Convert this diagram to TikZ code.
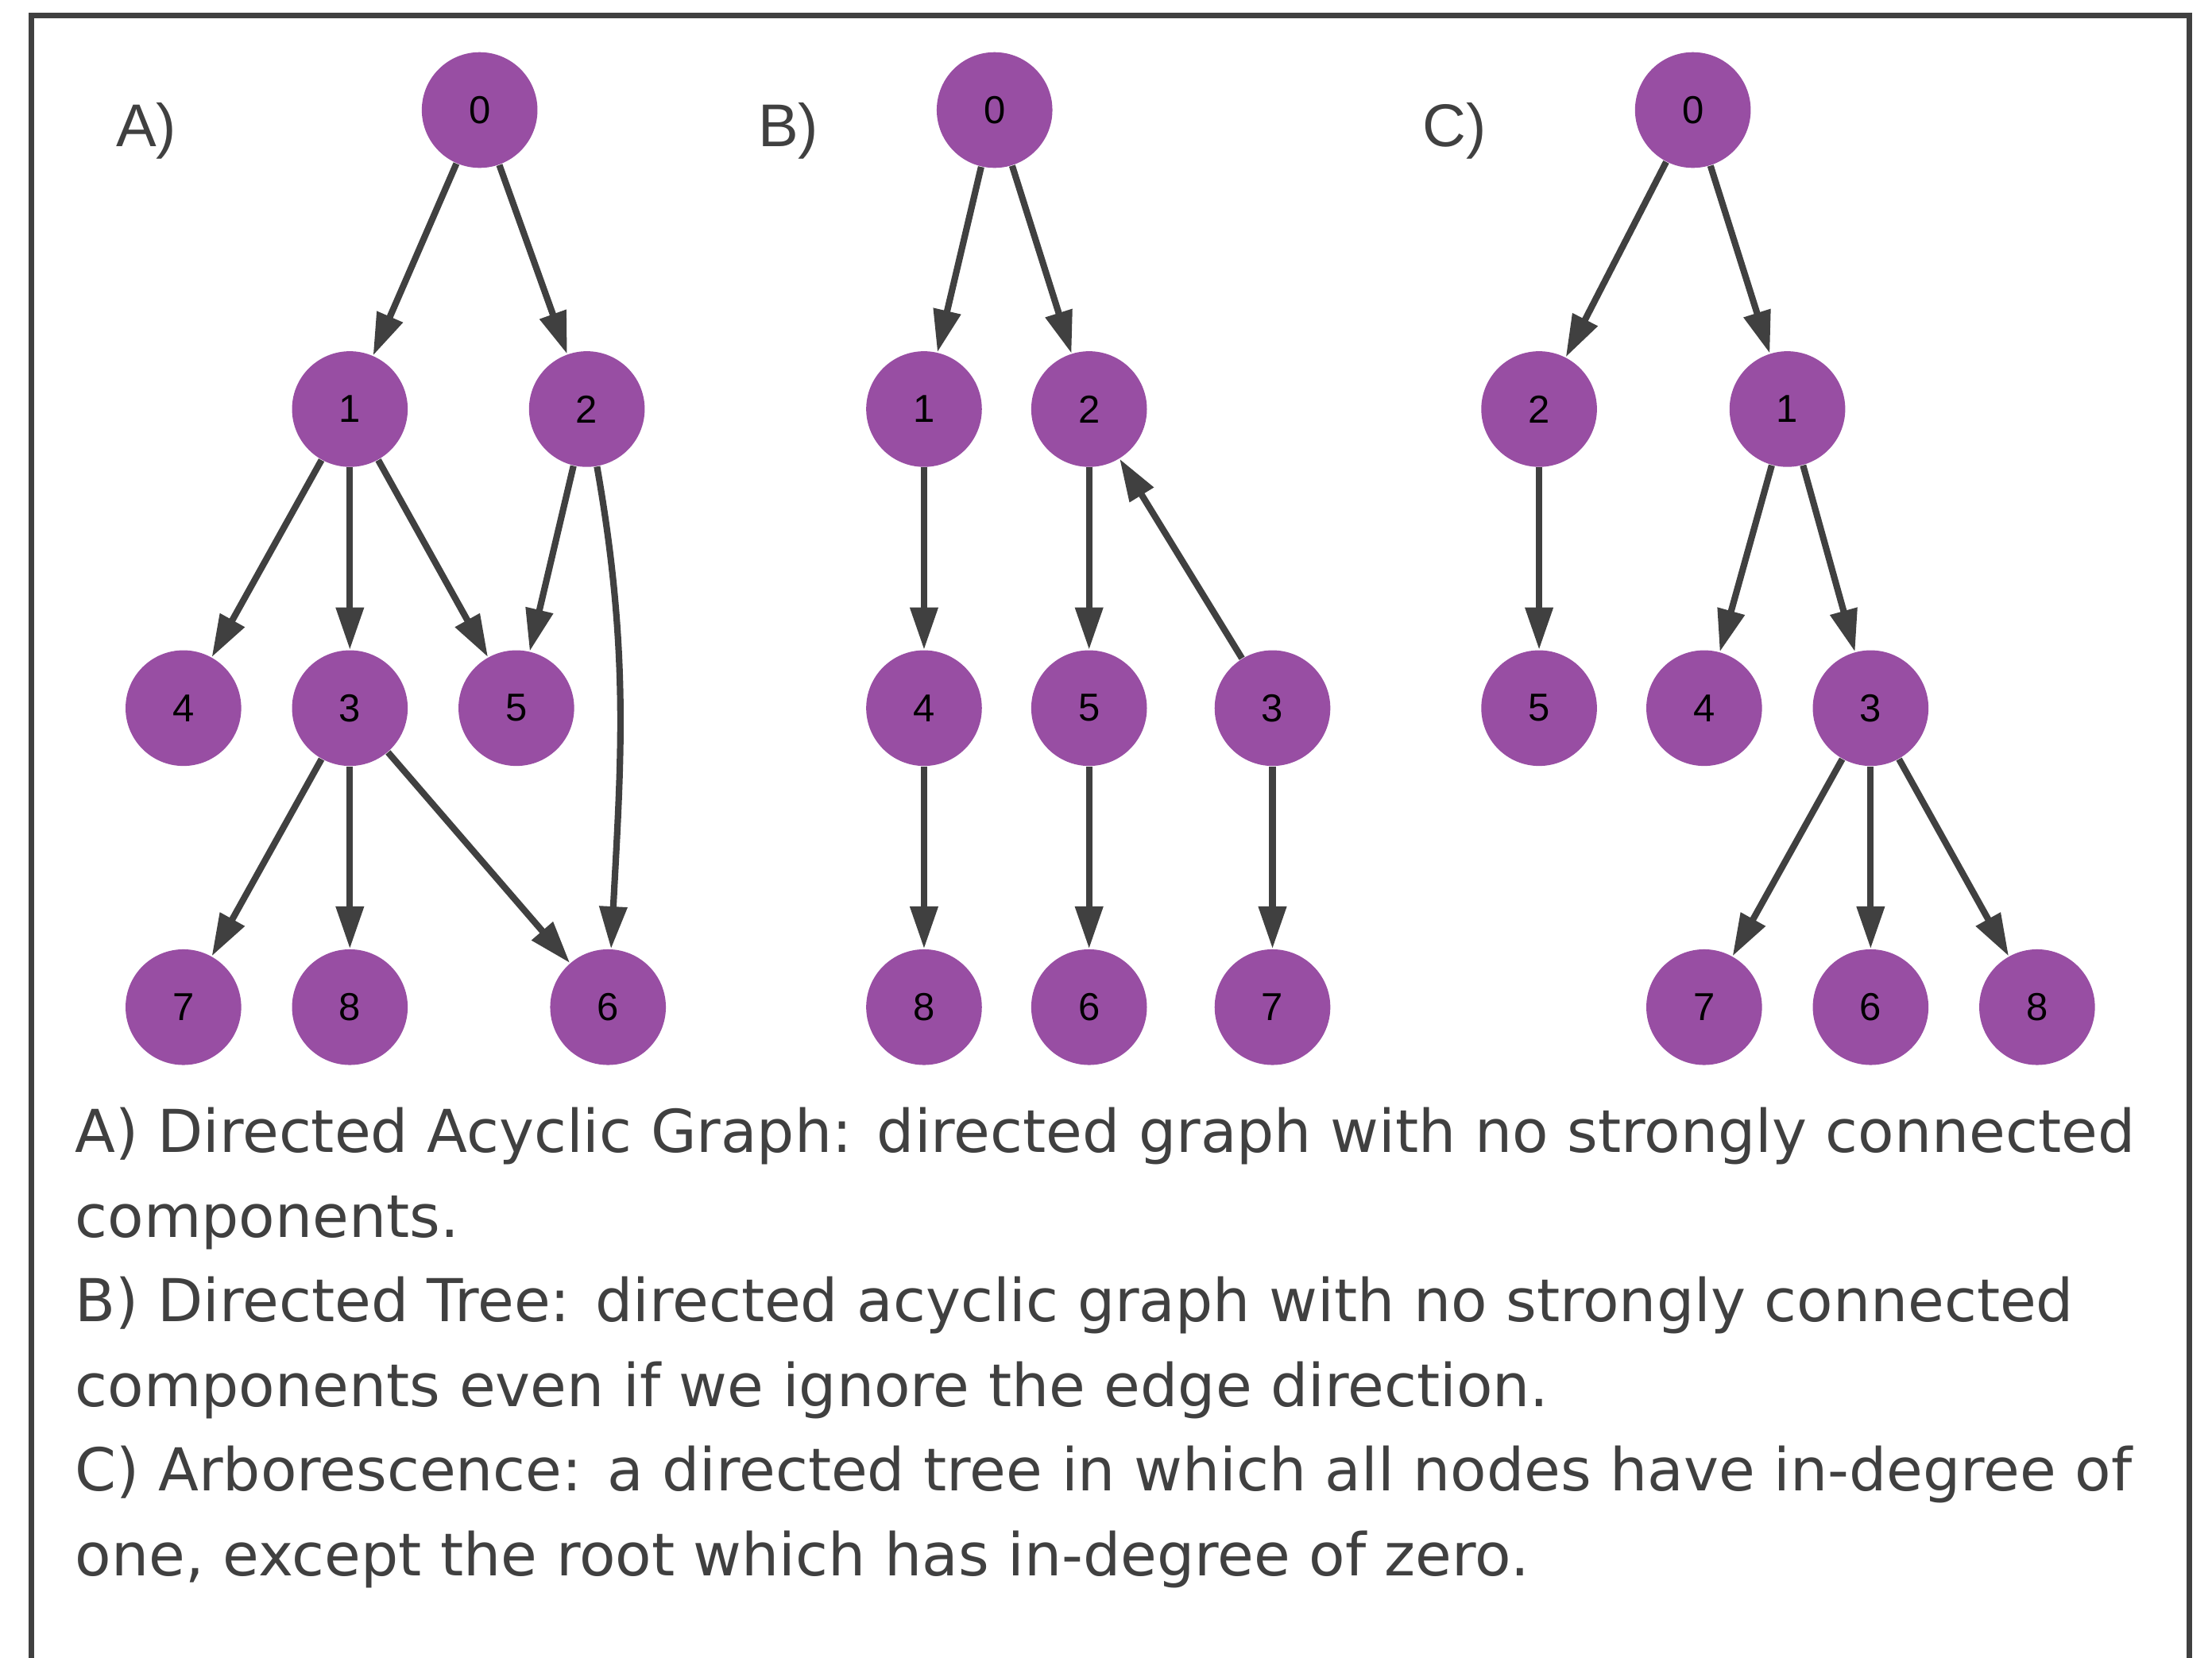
\documentclass[tikz,border=0pt]{standalone}
\usepackage{fontspec}
\setmainfont{DejaVu Sans}
\newfontfamily\nodefont{Liberation Sans}
\usetikzlibrary{arrows.meta}
\definecolor{vertfill}{HTML}{984EA3}
\definecolor{ink}{HTML}{404040}

\begin{document}
\begin{tikzpicture}[x=0.5pt, y=-0.5pt,
    vertex/.style={circle, fill=vertfill, minimum size=41pt, inner sep=0pt,
        font=\nodefont\fontsize{13.8}{14}\selectfont},
    edge/.style={draw=ink, line width=2.3pt, -{Triangle[length=15pt,width=9.5pt]}},
    panel/.style={anchor=base west, inner sep=0pt, text=ink,
        font=\nodefont\fontsize{21.4}{24}\selectfont},
    capline/.style={anchor=base west, inner sep=0pt, text=ink,
        font=\fontsize{20.95}{30}\selectfont}]
            \useasboundingbox (0,0) rectangle (1568,1175);
            \draw[ink, line width=2pt] (22,11) rectangle (1552,1220);

            % A) directed acyclic graph
            \node[panel] (labA) at (82,104) {A)};
            \node[vertex] (a0) at (340,78) {0};
            \node[vertex] (a1) at (248,290) {1};
            \node[vertex] (a2) at (416,290) {2};
            \node[vertex] (a4) at (130,502) {4};
            \node[vertex] (a3) at (248,502) {3};
            \node[vertex] (a5) at (366,502) {5};
            \node[vertex] (a7) at (130,714) {7};
            \node[vertex] (a8) at (248,714) {8};
            \node[vertex] (a6) at (431,714) {6};

            \draw[edge] (a0) -- (a1);
            \draw[edge] (a0) -- (a2);
            \draw[edge] (a1) -- (a4);
            \draw[edge] (a1) -- (a3);
            \draw[edge] (a1) -- (a5);
            \draw[edge] (a2) -- (a5);
            \draw[edge] (a2) to[out=-80, in=87] (a6);
            \draw[edge] (a3) -- (a7);
            \draw[edge] (a3) -- (a8);
            \draw[edge] (a3) -- (a6);

            % B) directed tree
            \node[panel] (labB) at (537,104) {B)};
            \node[vertex] (b0) at (705,78) {0};
            \node[vertex] (b1) at (655,290) {1};
            \node[vertex] (b2) at (772,290) {2};
            \node[vertex] (b4) at (655,502) {4};
            \node[vertex] (b5) at (772,502) {5};
            \node[vertex] (b3) at (902,502) {3};
            \node[vertex] (b8) at (655,714) {8};
            \node[vertex] (b6) at (772,714) {6};
            \node[vertex] (b7) at (902,714) {7};

            \draw[edge] (b0) -- (b1);
            \draw[edge] (b0) -- (b2);
            \draw[edge] (b1) -- (b4);
            \draw[edge] (b4) -- (b8);
            \draw[edge] (b2) -- (b5);
            \draw[edge] (b5) -- (b6);
            \draw[edge] (b3) -- (b2);
            \draw[edge] (b3) -- (b7);

            % C) arborescence
            \node[panel] (labC) at (1008,104) {C)};
            \node[vertex] (c0) at (1200,78) {0};
            \node[vertex] (c2) at (1091,290) {2};
            \node[vertex] (c1) at (1267,290) {1};
            \node[vertex] (c5) at (1091,502) {5};
            \node[vertex] (c4) at (1208,502) {4};
            \node[vertex] (c3) at (1326,502) {3};
            \node[vertex] (c7) at (1208,714) {7};
            \node[vertex] (c6) at (1326,714) {6};
            \node[vertex] (c8) at (1444,714) {8};

            \draw[edge] (c0) -- (c2);
            \draw[edge] (c0) -- (c1);
            \draw[edge] (c2) -- (c5);
            \draw[edge] (c1) -- (c4);
            \draw[edge] (c1) -- (c3);
            \draw[edge] (c3) -- (c7);
            \draw[edge] (c3) -- (c6);
            \draw[edge] (c3) -- (c8);

            % caption
            \foreach \txt [count=\i from 0] in {
                {A) Directed Acyclic Graph: directed graph with no strongly connected},
                {components.},
                {B) Directed Tree: directed acyclic graph with no strongly connected},
                {components even if we ignore the edge direction.},
                {C) Arborescence: a directed tree in which all nodes have in-degree of},
                {one, except the root which has in-degree of zero.}}
                \node[capline] (cap\i) at (53,817+60*\i) {\txt};
        \end{tikzpicture}
\end{document}
